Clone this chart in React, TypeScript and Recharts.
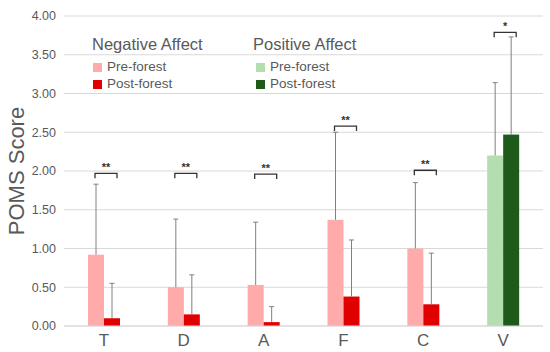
import React from "react";
import { BarChart, Bar, XAxis, YAxis, CartesianGrid, Cell } from "recharts";

const categories = ["T", "D", "A", "F", "C", "V"];
const preForest = [0.92, 0.5, 0.53, 1.37, 1.0, 2.2];
const postForest = [0.1, 0.15, 0.05, 0.38, 0.28, 2.47];
const preSD = [0.91, 0.88, 0.81, 1.13, 0.85, 0.94];
const postSD = [0.45, 0.51, 0.2, 0.73, 0.66, 1.26];
const bracketLevel = [1.97, 1.97, 1.96, 2.58, 2.01, 3.79];
const significance = ["**", "**", "**", "**", "**", "*"];
const positive = [false, false, false, false, false, true];
const yTicks = [0, 0.5, 1, 1.5, 2, 2.5, 3, 3.5, 4];

const NEG_PRE = "#ffabab";
const NEG_POST = "#e00000";
const POS_PRE = "#b4deb0";
const POS_POST = "#1e5a1a";
const TEXT = "#595959";
const ERR = "#808080";

const data = categories.map((c, i) => ({
  category: c,
  pre: preForest[i],
  post: postForest[i],
  preSD: preSD[i],
  postSD: postSD[i],
  bracket: bracketLevel[i],
  sig: significance[i],
}));

function errorShape(sdKey: "preSD" | "postSD", withBracket: boolean) {
  return (props: any) => {
    const { x, y, width, height, fill, payload, value } = props;
    const v = Array.isArray(value) ? value[1] - value[0] : value;
    const k = v ? height / v : 0;
    const cx = x + width / 2;
    const top = y - payload[sdKey] * k;
    const base = y + height;
    let bracket = null;
    if (withBracket) {
      const by = base - payload.bracket * k;
      const l = x - 9;
      const r = x + 13;
      bracket = (
        <g>
          <path d={`M${l},${by + 5}V${by}H${r}V${by + 5}`} fill="none" stroke="#333" strokeWidth={1.3} />
          <text x={(l + r) / 2} y={by - 2} textAnchor="middle" fontSize={11} fontWeight="bold" fill="#333">
            {payload.sig}
          </text>
        </g>
      );
    }
    return (
      <g>
        <rect x={x} y={y} width={width} height={height} fill={fill} />
        <line x1={cx} x2={cx} y1={y} y2={top} stroke={ERR} strokeWidth={1} />
        <line x1={cx - 2.5} x2={cx + 2.5} y1={top} y2={top} stroke={ERR} strokeWidth={1} />
        {bracket}
      </g>
    );
  };
}

const legendTitle: React.CSSProperties = { position: "absolute", fontSize: 16.5, color: TEXT, lineHeight: "18px" };
const legendItem: React.CSSProperties = {
  position: "absolute",
  fontSize: 13.5,
  color: TEXT,
  display: "flex",
  alignItems: "center",
  lineHeight: "16px",
};
const swatch = (c: string): React.CSSProperties => ({ width: 9, height: 9, background: c, marginRight: 5 });

export default function App() {
  return (
    <div
      style={{
        position: "absolute",
        left: 0,
        top: 0,
        width: 550,
        height: 352,
        background: "#fff",
        fontFamily: "'Liberation Sans', Arial, sans-serif",
      }}
    >
      <BarChart
        width={550}
        height={352}
        data={data}
        margin={{ top: 16, right: 7, left: 0, bottom: 0 }}
        barSize={16}
        barGap={0}
      >
        <CartesianGrid vertical={false} stroke="#d9d9d9" />
        <XAxis
          dataKey="category"
          axisLine={{ stroke: "#d9d9d9" }}
          tickLine={false}
          height={26}
          tick={{ fontSize: 17, fill: TEXT }}
          tickMargin={2}
        />
        <YAxis
          domain={[0, 4]}
          ticks={yTicks}
          axisLine={false}
          tickLine={false}
          width={64}
          tickFormatter={(v: number) => v.toFixed(2)}
          tick={{ fontSize: 12.5, fill: TEXT }}
          label={{
            value: "POMS Score",
            angle: -90,
            position: "insideLeft",
            dx: 11,
            style: { fontSize: 22, fill: TEXT, textAnchor: "middle" },
          }}
        />
        <Bar dataKey="pre" isAnimationActive={false} shape={errorShape("preSD", false)}>
          {data.map((_, i) => (
            <Cell key={`pre-${i}`} fill={positive[i] ? POS_PRE : NEG_PRE} />
          ))}
        </Bar>
        <Bar dataKey="post" isAnimationActive={false} shape={errorShape("postSD", true)}>
          {data.map((_, i) => (
            <Cell key={`post-${i}`} fill={positive[i] ? POS_POST : NEG_POST} />
          ))}
        </Bar>
      </BarChart>
      <div style={{ ...legendTitle, left: 92, top: 35 }}>Negative Affect</div>
      <div style={{ ...legendTitle, left: 253, top: 35 }}>Positive Affect</div>
      <div style={{ ...legendItem, left: 93, top: 59 }}>
        <div style={swatch(NEG_PRE)} />
        Pre-forest
      </div>
      <div style={{ ...legendItem, left: 93, top: 76 }}>
        <div style={swatch(NEG_POST)} />
        Post-forest
      </div>
      <div style={{ ...legendItem, left: 256, top: 59 }}>
        <div style={swatch(POS_PRE)} />
        Pre-forest
      </div>
      <div style={{ ...legendItem, left: 256, top: 76 }}>
        <div style={swatch(POS_POST)} />
        Post-forest
      </div>
    </div>
  );
}
